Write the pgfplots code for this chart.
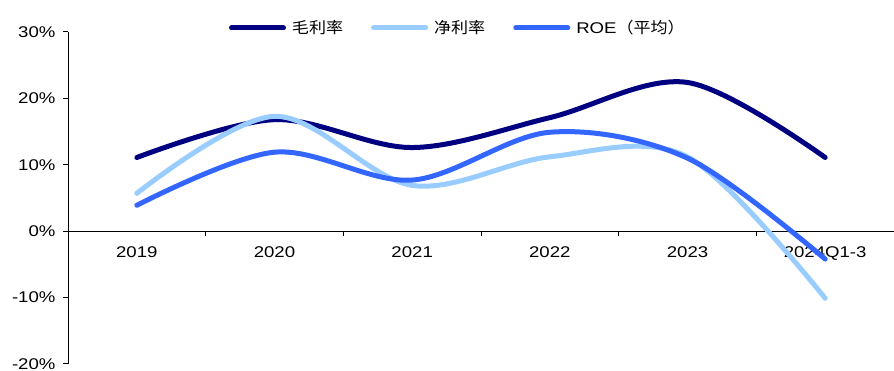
\documentclass[border=0pt]{standalone}
\usepackage{pgfplots}
\pgfplotsset{compat=1.18}
\usepackage{fontspec}
\setmainfont{Liberation Sans}[FakeStretch=1.2]
\newfontfamily\cjk{Noto Sans CJK SC}[FakeStretch=1.1]
\definecolor{cGross}{RGB}{0,0,128}
\definecolor{cNet}{RGB}{153,204,255}
\definecolor{cROE}{RGB}{51,102,255}
\begin{document}
\begin{tikzpicture}[x=1pt,y=1pt]
\useasboundingbox (0,0) rectangle (894,371);
\begin{axis}[
  at={(68pt,7pt)}, anchor=south west,
  scale only axis,
  width=826pt, height=332pt,
  xmin=-0.5, xmax=5.5,
  ymin=-20, ymax=30,
  axis y line*=left,
  axis x line*=middle,
  xtick={0,1,2,3,4,5},
  xticklabels={2019,2020,2021,2022,2023,2024Q1-3},
  minor xtick={0.5,1.5,2.5,3.5,4.5},
  major x tick style={draw=none},
  minor x tick style={black, line width=1pt},
  minor tick length=5pt,
  x tick label style={yshift=-7pt},
  ytick={-20,-10,0,10,20,30},
  yticklabel={\pgfmathprintnumber{\tick}\%},
  /pgf/number format/assume math mode=true,
  y tick style={black, line width=1pt},
  y tick label style={xshift=-4pt},
  major tick length=5pt,
  tick align=outside,
  axis line style={black, line width=1pt},
  tick label style={font=\fontsize{15.5}{17}\selectfont},
  legend style={at={(0.472,1)}, anchor=center, yshift=4pt, draw=none, fill=none,
    legend columns=3, font=\fontsize{15.5}{17}\selectfont,
    /tikz/every even column/.append style={column sep=26pt}},
  legend image code/.code={\draw[#1, line width=5pt, line cap=round] (0pt,0pt) -- (52pt,0pt);\path (56pt,0pt);},
  clip=false,
]
\addplot[cGross, line width=5pt, line cap=round, smooth, tension=0.55] coordinates {
(0,11.1) (1,16.8) (2,12.6) (3,17.1) (4,22.4) (5,11.1)};
\addlegendentry{\cjk 毛利率}
\addplot[cNet, line width=5pt, line cap=round, smooth, tension=0.55] coordinates {
(0,5.7) (1,17.3) (2,6.9) (3,11.2) (4,11.2) (5,-10.1)};
\addlegendentry{\cjk 净利率}
\addplot[cROE, line width=5pt, line cap=round, smooth, tension=0.55] coordinates {
(0,3.9) (1,11.9) (2,7.7) (3,14.9) (4,11.0) (5,-4.2)};
\addlegendentry{ROE{\cjk （平均）}}
\end{axis}
\end{tikzpicture}
\end{document}
